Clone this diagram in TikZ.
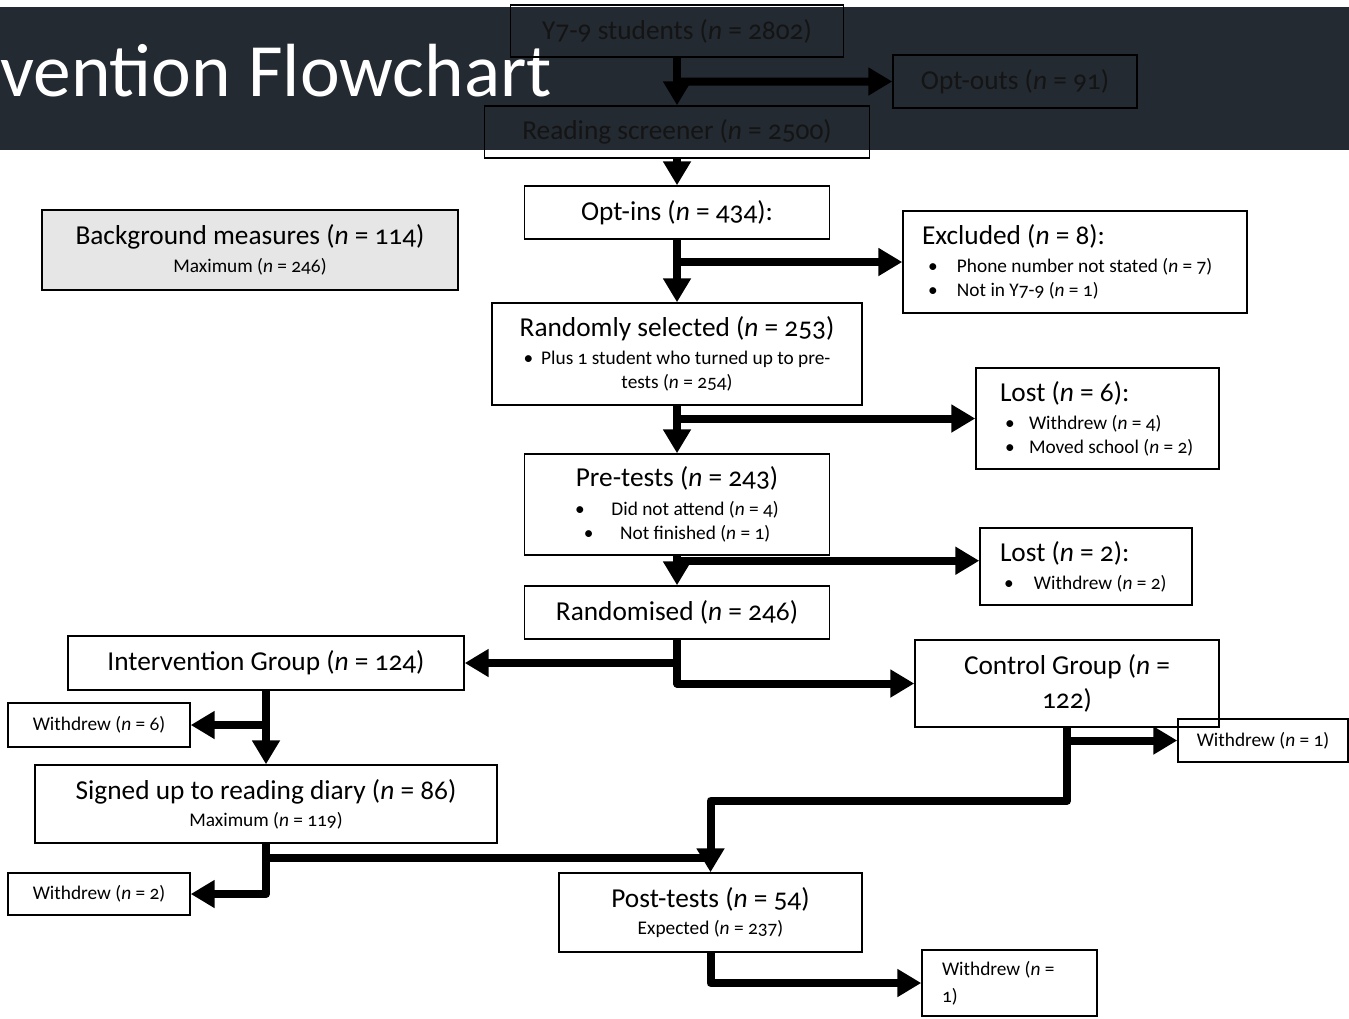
\documentclass[tikz,border=0pt]{standalone}
\usepackage{fontspec}
\setmainfont{Carlito}[Numbers=OldStyle]
\usetikzlibrary{arrows.meta,calc}
\definecolor{banner}{HTML}{232A32}
\definecolor{bgfill}{HTML}{E6E6E6}
\definecolor{dtext}{HTML}{141414}
\newcommand\nv{\textit{n}}
\newcommand\bigf{\fontsize{20.5}{24}\selectfont}
\newcommand\smallf{\fontsize{14.5}{18}\selectfont}
\newcommand\bul[1]{\makebox[#1][l]{\textbullet}}
\begin{document}
\begin{tikzpicture}[x=0.75pt,y=-0.75pt,
  box/.style={draw=black,line width=1.1pt,inner sep=0pt,align=center},
  lbox/.style={box,align=flush left},
  arr/.style={line width=6pt,line join=round,-{Triangle[length=18pt,width=20pt]}},
  conn/.style={line width=6pt,line join=round},
  ]
\useasboundingbox (0,0) rectangle (1349,1018);
\fill[banner] (0,7) rectangle (1349,150);
\node[anchor=base west,text=white,font=\fontsize{56.5}{62}\selectfont,inner sep=0pt] (title) at (0,96) {vention Flowchart};

% boxes in banner
\node[box,minimum width=249.75pt,minimum height=39pt,text=dtext,font=\bigf] (y79) at (677,31) {Y7-9 students (\nv{} = 2802)};
\node[box,minimum width=183pt,minimum height=39.75pt,text=dtext,font=\bigf] (opto) at (1015,81.5) {Opt-outs (\nv{} = 91)};
\node[box,minimum width=288.75pt,minimum height=39pt,text=dtext,font=\bigf] (rs) at (677,132) {Reading screener (\nv{} = 2500)};

% main column
\node[box,minimum width=228.75pt,minimum height=39.75pt,font=\bigf] (optin) at (677,212.5) {Opt-ins (\nv{} = 434):};
\node[box,fill=bgfill,minimum width=312pt,minimum height=60pt,font=\smallf] (bg) at (250,250) {{\bigf Background measures (\nv{} = 114)}\\[3pt]Maximum (\nv{} = 246)};
\node[lbox,minimum width=258pt,minimum height=76.5pt,text width=229.5pt,font=\smallf] (excl) at (1075,262)
  {{\bigf Excluded (\nv{} = 8):}\\[3pt]
   \hspace*{4.5pt}\bul{21.75pt}Phone number not stated (\nv{} = 7)\\
   \hspace*{4.5pt}\bul{21.75pt}Not in Y7-9 (\nv{} = 1)};
\node[box,minimum width=277.5pt,minimum height=76.5pt,font=\smallf] (randsel) at (677,354)
  {{\bigf Randomly selected (\nv{} = 253)}\\[3pt]
   \textbullet\hspace{6pt}Plus 1 student who turned up to pre-\\
   tests (\nv{} = 254)};
\node[lbox,minimum width=182.25pt,minimum height=75.75pt,text width=146.25pt,font=\smallf] (lost6) at (1097.5,418.5)
  {{\bigf Lost (\nv{} = 6):}\\[3pt]
   \hspace*{3.75pt}\bul{18pt}Withdrew (\nv{} = 4)\\
   \hspace*{3.75pt}\bul{18pt}Moved school (\nv{} = 2)};
\node[box,minimum width=228.75pt,minimum height=75.75pt,font=\smallf] (pre) at (677,504.5)
  {{\bigf Pre-tests (\nv{} = 243)}\\[3.5pt]
   \textbullet\hspace{20pt}Did not attend (\nv{} = 4)\\
   \textbullet\hspace{20pt}Not finished (\nv{} = 1)};
\node[lbox,minimum width=159pt,minimum height=57.75pt,text width=129pt,font=\smallf] (lost2) at (1086,566.5)
  {{\bigf Lost (\nv{} = 2):}\\[3pt]
   \hspace*{3pt}\bul{22.5pt}Withdrew (\nv{} = 2)};
\node[box,minimum width=228.75pt,minimum height=39.75pt,font=\bigf] (randd) at (677,612.5) {Randomised (\nv{} = 246)};

% groups
\node[box,minimum width=297pt,minimum height=40.5pt,font=\bigf] (intv) at (266,663) {Intervention Group (\nv{} = 124)};
\node[box,minimum width=228pt,minimum height=65.25pt,font=\bigf] (ctrl) at (1067,683.5) {Control Group (\nv{} =\\[2pt]122)};
\node[box,minimum width=136.5pt,minimum height=33pt,font=\smallf] (w6) at (99,725) {Withdrew (\nv{} = 6)};
\node[box,minimum width=127.5pt,minimum height=32.25pt,font=\smallf] (w1r) at (1263,740.5) {Withdrew (\nv{} = 1)};
\node[box,minimum width=346.5pt,minimum height=58.5pt,font=\smallf] (sign) at (266,804) {{\bigf Signed up to reading diary (\nv{} = 86)}\\[2.5pt]Maximum (\nv{} = 119)};
\node[box,minimum width=136.5pt,minimum height=31.5pt,font=\smallf] (w2) at (99,894) {Withdrew (\nv{} = 2)};
\node[box,minimum width=227.25pt,minimum height=59.25pt,font=\smallf] (post) at (710.5,912.5) {{\bigf Post-tests (\nv{} = 54)}\\[2.5pt]Expected (\nv{} = 237)};
\node[lbox,minimum width=131.25pt,minimum height=49.5pt,text width=101.25pt,font=\smallf] (w1b) at (1009.5,983) {Withdrew (\nv{} =\\[2pt]1)};

% connectors
\draw[arr] (y79.south) -- (rs.north);
\draw[arr] ($(y79.south)!0.5!(rs.north)$) -- (opto.west);
\draw[arr] (rs.south) -- (optin.north);
\draw[arr] (optin.south) -- (randsel.north);
\draw[arr] (optin.south |- excl.west) -- (excl.west);
\draw[arr] (randsel.south) -- (pre.north);
\draw[arr] (randsel.south |- lost6.west) -- (lost6.west);
\draw[arr] (pre.south) -- (randd.north);
\draw[arr] ($(pre.south)+(0,5)$) coordinate (pj) -- (pj -| lost2.west);
\draw[arr] (randd.south) |- (intv.east);
\draw[arr] (randd.south) |- (ctrl.west);
\draw[arr] (intv.south) -- (sign.north);
\draw[arr] (intv.south |- w6.east) -- (w6.east);
\draw[arr] (sign.south) |- (w2.east);
\draw[conn] ($(sign.south)+(0,14)$) coordinate (j) -- (j -| post.north);
\draw[arr] (ctrl.south) -- ++(0,73) -| (post.north);
\draw[arr] (ctrl.south |- w1r.west) -- (w1r.west);
\draw[arr] (post.south) |- (w1b.west);
\end{tikzpicture}
\end{document}
